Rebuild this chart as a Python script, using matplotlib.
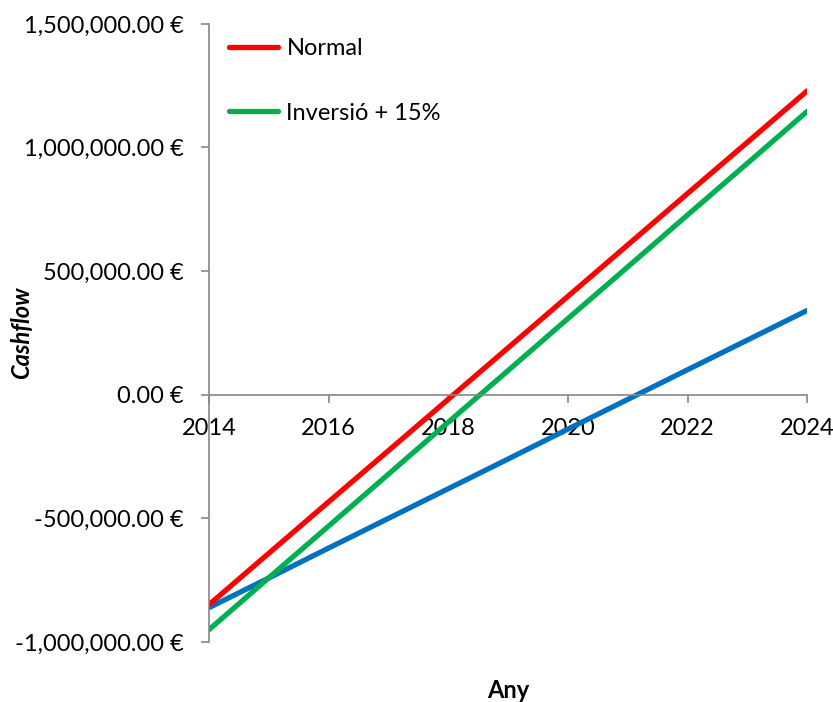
import matplotlib
matplotlib.use("Agg")
import matplotlib.pyplot as plt
from matplotlib.ticker import FuncFormatter, MultipleLocator
from matplotlib.lines import Line2D

years = [2014, 2015, 2016, 2017, 2018, 2019, 2020, 2021, 2022, 2023, 2024]
normal = [-849000, -641000, -433000, -226000, -18000, 190000, 398000, 606000, 814000, 1021000, 1229000]
inversio = [-950000, -740000, -531000, -321000, -111000, 98000, 308000, 517000, 727000, 936000, 1146000]
third = [-861000, -741000, -620000, -500000, -380000, -260000, -139000, -19000, 101000, 221000, 341000]

labels = ["Normal", "Inversió + 15%"]
colors = ["#FF0000", "#00B050", "#0070C0"]

plt.rcParams['font.family'] = ['Lato', 'DejaVu Sans']
fs = 17

fig = plt.figure(figsize=(8.33, 7.02), dpi=100)
ax = fig.add_axes([0.251, 0.0855, 0.718, 0.8805])

lw = 3.8
ax.plot(years, third, color=colors[2], lw=lw, solid_capstyle='round')
ax.plot(years, inversio, color=colors[1], lw=lw, solid_capstyle='round')
ax.plot(years, normal, color=colors[0], lw=lw, solid_capstyle='round')

ax.set_xlim(2014, 2024)
ax.set_ylim(-1000000, 1500000)
ax.xaxis.set_major_locator(MultipleLocator(2))
ax.yaxis.set_major_locator(MultipleLocator(500000))
ax.yaxis.set_major_formatter(FuncFormatter(lambda v, p: f"{v:,.2f} €"))

ax.spines['top'].set_visible(False)
ax.spines['right'].set_visible(False)
ax.spines['bottom'].set_position(('data', 0))
for s in ('left', 'bottom'):
    ax.spines[s].set_color('#868686')
    ax.spines[s].set_linewidth(1.2)
ax.tick_params(axis='both', colors='#868686', labelcolor='black', labelsize=fs,
               length=6, width=1.2, direction='out')
ax.tick_params(axis='x', pad=11)
ax.tick_params(axis='y', pad=12)

fig.text(22 / 833, 1 - 333 / 702, "Cashflow", fontsize=fs, fontweight='bold',
         fontstyle='italic', rotation=90, ha='center', va='center')
fig.text(508 / 833, 1 - 690 / 702, "Any", fontsize=fs, fontweight='bold',
         ha='center', va='center')

handles = [Line2D([0], [0], color=colors[0], lw=lw, solid_capstyle='round'),
           Line2D([0], [0], color=colors[1], lw=lw, solid_capstyle='round')]
ax.legend(handles, labels, loc='upper left', bbox_to_anchor=(0.009, 1.0), frameon=False,
          fontsize=fs, handlelength=2.1, handletextpad=0.35, labelspacing=1.85,
          borderaxespad=0.2)

fig.savefig("out.png", dpi=100)
